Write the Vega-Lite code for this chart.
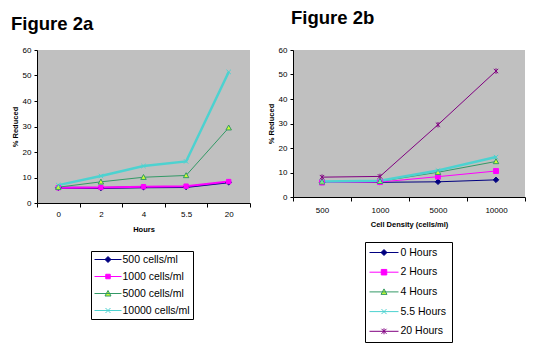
{
  "$schema": "https://vega.github.io/schema/vega-lite/v6.json",
  "padding": {"left": 11, "top": 8, "right": 0, "bottom": 0},
  "background": "white",
  "spacing": 16,
  "config": {
    "font": "Liberation Sans",
    "view": {"fill": "#C0C0C0", "stroke": null},
    "axis": {
      "domainColor": "#000000", "tickColor": "#000000", "grid": false,
      "labelFont": "Liberation Sans", "labelFontSize": 8, "labelColor": "#000000",
      "titleFont": "Liberation Sans", "titleFontSize": 7.5, "titleFontWeight": "bold", "titleColor": "#000000",
      "tickSize": 3, "labelPadding": 3
    },
    "legend": {
      "strokeColor": "#000000", "fillColor": "#FFFFFF", "labelFont": "Liberation Sans",
      "labelFontSize": 10.5, "labelColor": "#000000", "symbolSize": 100, "symbolStrokeWidth": 1, "title": null
    },
    "point": {"filled": true, "size": 30, "strokeWidth": 1, "opacity": 1},
    "title": {"font": "Liberation Sans", "fontSize": 18.5, "fontWeight": "bold", "color": "#000000", "anchor": "start", "frame": "group", "baseline": "alphabetic"}
  },
  "datasets": {
    "d": [
      {"cells": "500", "hours": "0", "reduced": 6.0},
      {"cells": "500", "hours": "2", "reduced": 5.9},
      {"cells": "500", "hours": "4", "reduced": 6.2},
      {"cells": "500", "hours": "5.5", "reduced": 6.3},
      {"cells": "500", "hours": "20", "reduced": 8.1},
      {"cells": "1000", "hours": "0", "reduced": 6.0},
      {"cells": "1000", "hours": "2", "reduced": 6.1},
      {"cells": "1000", "hours": "4", "reduced": 6.4},
      {"cells": "1000", "hours": "5.5", "reduced": 6.6},
      {"cells": "1000", "hours": "20", "reduced": 8.4},
      {"cells": "5000", "hours": "0", "reduced": 6.2},
      {"cells": "5000", "hours": "2", "reduced": 8.3},
      {"cells": "5000", "hours": "4", "reduced": 10.1},
      {"cells": "5000", "hours": "5.5", "reduced": 10.8},
      {"cells": "5000", "hours": "20", "reduced": 29.5},
      {"cells": "10000", "hours": "0", "reduced": 7.0},
      {"cells": "10000", "hours": "2", "reduced": 10.6},
      {"cells": "10000", "hours": "4", "reduced": 14.5},
      {"cells": "10000", "hours": "5.5", "reduced": 16.3},
      {"cells": "10000", "hours": "20", "reduced": 51.4}
    ]
  },
  "resolve": {
    "scale": {"x": "independent", "y": "independent", "stroke": "independent"},
    "legend": {"stroke": "independent"}
  },
  "hconcat": [
    {
      "width": 213, "height": 153,
      "title": {"text": "Figure 2a", "dx": -26, "offset": 13},
      "data": {"name": "d"},
      "encoding": {
        "x": {"field": "hours", "type": "ordinal", "sort": ["0", "2", "4", "5.5", "20"],
          "scale": {"type": "band", "paddingInner": 0, "paddingOuter": 0},
          "axis": {"title": "Hours", "labelAngle": 0, "tickBand": "extent", "tickSize": 4, "labelPadding": 3, "titlePadding": 7}},
        "y": {"field": "reduced", "type": "quantitative", "scale": {"domain": [0, 60]},
          "axis": {"title": "% Reduced", "values": [0, 10, 20, 30, 40, 50, 60], "titlePadding": 3}},
        "stroke": {"field": "cells", "type": "nominal",
          "scale": {"domain": ["500", "1000", "5000", "10000"], "range": ["#000080", "#FF00FF", "#339966", "#4DD2D0"]},
          "legend": {
            "orient": "none", "legendX": 54, "legendY": 201, "padding": 3, "symbolOffset": 8.5, "labelOffset": 9, "rowPadding": 6, "symbolStrokeWidth": 1,
            "labelExpr": "datum.label + ' cells/ml'",
            "encode": {"symbols": {"update": {
              "shape": {"signal": "datum.value=='500'?'M-2.7,0H2.7M0,-0.6L0.6,0L0,0.6L-0.6,0Z':datum.value=='1000'?'M-2.7,0H2.7M-0.45,-0.45H0.45V0.45H-0.45Z':datum.value=='5000'?'M-2.7,0H2.7M0,-0.6L0.6,0.5L-0.6,0.5Z':'M-2.7,0H2.7M-0.5,-0.5L0.5,0.5M-0.5,0.5L0.5,-0.5'"},
              "fill": {"signal": "datum.value=='500'?'#000080':datum.value=='1000'?'#FF00FF':datum.value=='5000'?'#CCFF33':'#4DD2D0'"},
              "strokeWidth": {"value": 1},
              "size": {"value": 100},
              "opacity": {"value": 1}
            }}}
          }}
      },
      "layer": [
        {"transform": [{"filter": {"field": "cells", "oneOf": ["500", "1000"]}}], "mark": {"type": "line", "strokeWidth": 2}},
        {"transform": [{"filter": "datum.cells == '5000'"}], "mark": {"type": "line", "strokeWidth": 1}},
        {"transform": [{"filter": "datum.cells == '10000'"}], "mark": {"type": "line", "strokeWidth": 2.5}},
        {"transform": [{"filter": "datum.cells == '500'"}], "mark": {"type": "point", "shape": "M0,-1L1,0L0,1L-1,0Z", "fill": "#000080"}},
        {"transform": [{"filter": "datum.cells == '1000'"}], "mark": {"type": "point", "shape": "M-0.8,-0.8H0.8V0.8H-0.8Z", "fill": "#FF00FF"}},
        {"transform": [{"filter": "datum.cells == '5000'"}], "mark": {"type": "point", "shape": "M0,-1L1,0.8L-1,0.8Z", "fill": "#CCFF33"}},
        {"transform": [{"filter": "datum.cells == '10000'"}], "mark": {"type": "point", "shape": "M-0.8,-0.8L0.8,0.8M-0.8,0.8L0.8,-0.8", "fill": "#4DD2D0"}}
      ]
    },
    {
      "width": 232, "height": 147,
      "title": {"text": "Figure 2b", "dx": -2, "offset": 19},
      "data": {"name": "d"},
      "encoding": {
        "x": {"field": "cells", "type": "ordinal", "sort": ["500", "1000", "5000", "10000"],
          "scale": {"type": "band", "paddingInner": 0, "paddingOuter": 0},
          "axis": {"title": "Cell Density (cells/ml)", "labelAngle": 0, "tickBand": "extent", "tickSize": 4, "labelPadding": 5, "titlePadding": 6}},
        "y": {"field": "reduced", "type": "quantitative", "scale": {"domain": [0, 60]},
          "axis": {"title": "% Reduced", "values": [0, 10, 20, 30, 40, 50, 60], "titlePadding": 3}},
        "stroke": {"field": "hours", "type": "nominal",
          "scale": {"domain": ["0", "2", "4", "5.5", "20"], "range": ["#000080", "#FF00FF", "#339966", "#4DD2D0", "#800080"]},
          "legend": {
            "orient": "none", "legendX": 72, "legendY": 192, "padding": 5, "symbolOffset": 8.5, "labelOffset": 11, "rowPadding": 8.7, "symbolStrokeWidth": 1,
            "labelExpr": "datum.label + ' Hours'",
            "encode": {"symbols": {"update": {
              "shape": {"signal": "datum.value=='0'?'M-2.9,0H2.9M0,-0.6L0.6,0L0,0.6L-0.6,0Z':datum.value=='2'?'M-2.9,0H2.9M-0.55,-0.55H0.55V0.55H-0.55Z':datum.value=='4'?'M-2.9,0H2.9M0,-0.6L0.6,0.5L-0.6,0.5Z':datum.value=='5.5'?'M-2.9,0H2.9M-0.5,-0.5L0.5,0.5M-0.5,0.5L0.5,-0.5':'M-2.9,0H2.9M-0.5,-0.5L0.5,0.5M-0.5,0.5L0.5,-0.5M0,-0.6V0.6'"},
              "fill": {"signal": "datum.value=='0'?'#000080':datum.value=='2'?'#FF00FF':datum.value=='4'?'#CCFF33':datum.value=='5.5'?'#4DD2D0':'#800080'"},
              "strokeWidth": {"value": 1},
              "size": {"value": 100},
              "opacity": {"value": 1}
            }}}
          }}
      },
      "layer": [
        {"transform": [{"filter": {"field": "hours", "oneOf": ["0", "2", "4"]}}], "mark": {"type": "line", "strokeWidth": 1}},
        {"transform": [{"filter": "datum.hours == '5.5'"}], "mark": {"type": "line", "strokeWidth": 2.5}},
        {"transform": [{"filter": "datum.hours == '20'"}], "mark": {"type": "line", "strokeWidth": 1}},
        {"transform": [{"filter": "datum.hours == '0'"}], "mark": {"type": "point", "shape": "M0,-1L1,0L0,1L-1,0Z", "fill": "#000080"}},
        {"transform": [{"filter": "datum.hours == '2'"}], "mark": {"type": "point", "shape": "M-0.9,-0.9H0.9V0.9H-0.9Z", "fill": "#FF00FF"}},
        {"transform": [{"filter": "datum.hours == '4'"}], "mark": {"type": "point", "shape": "M0,-1L1,0.8L-1,0.8Z", "fill": "#CCFF33"}},
        {"transform": [{"filter": "datum.hours == '5.5'"}], "mark": {"type": "point", "shape": "M-0.8,-0.8L0.8,0.8M-0.8,0.8L0.8,-0.8", "fill": "#4DD2D0"}},
        {"transform": [{"filter": "datum.hours == '20'"}], "mark": {"type": "point", "shape": "M-0.8,-0.8L0.8,0.8M-0.8,0.8L0.8,-0.8M0,-1V1", "fill": "#800080"}}
      ]
    }
  ]
}
